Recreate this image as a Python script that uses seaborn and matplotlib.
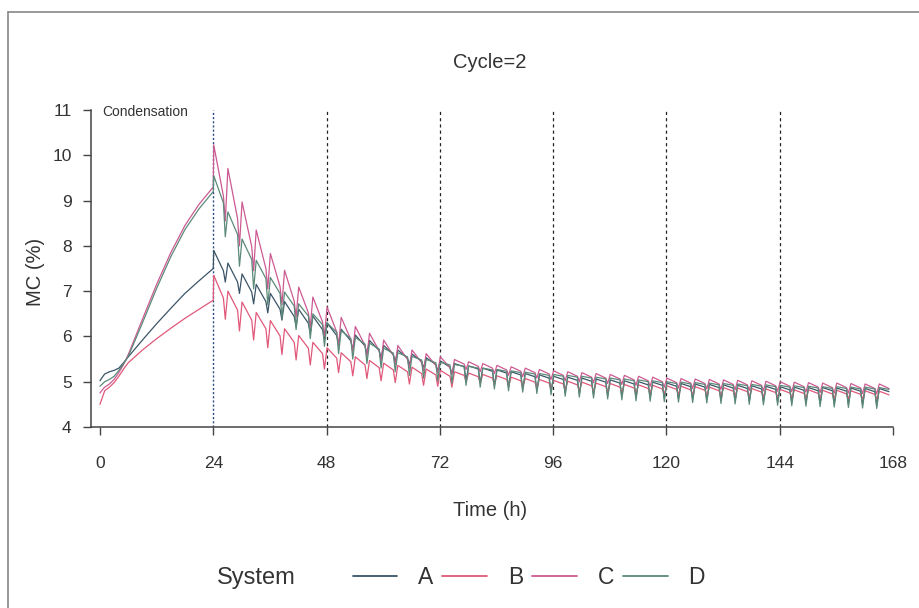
import numpy as np
import pandas as pd
import matplotlib
matplotlib.use("Agg")
import matplotlib.pyplot as plt
import seaborn as sns
from matplotlib.lines import Line2D

# ---------------- data ----------------
systems = ["A", "B", "C", "D"]
palette = {"A": "#3b5568", "B": "#e0587a", "C": "#cc5a92", "D": "#5b8a78"}

# condensation phase (0-24 h)
cond_time = [0, 0.5, 1, 2, 3, 4, 5, 6, 9, 12, 15, 18, 21, 24]
cond_A = [5.02, 5.10, 5.17, 5.22, 5.25, 5.30, 5.42, 5.55, 5.92, 6.28, 6.62, 6.95, 7.23, 7.50]
cond_B = [4.50, 4.65, 4.80, 4.88, 4.98, 5.12, 5.28, 5.42, 5.70, 5.95, 6.18, 6.40, 6.60, 6.80]
cond_C = [4.75, 4.82, 4.88, 4.95, 5.05, 5.20, 5.38, 5.60, 6.38, 7.15, 7.85, 8.45, 8.92, 9.30]
cond_D = [4.90, 4.95, 5.00, 5.05, 5.12, 5.25, 5.40, 5.56, 6.30, 7.06, 7.76, 8.36, 8.82, 9.20]

# drying cycles: one every 3 h from 24 h to 165 h
cycle_start = list(range(24, 166, 3))

peak_A = [7.90, 7.62, 7.38, 7.15, 6.95, 6.77, 6.60, 6.45, 6.30, 6.16, 6.03, 5.91, 5.80, 5.70, 5.61, 5.53, 5.46,
          5.40, 5.35, 5.30, 5.26, 5.22, 5.18, 5.15, 5.12,
          5.10, 5.08, 5.06, 5.04, 5.02, 5.00, 4.99, 4.97,
          4.96, 4.95, 4.94, 4.93, 4.92, 4.91, 4.90, 4.89,
          4.88, 4.87, 4.87, 4.86, 4.86, 4.85, 4.85]
shoulder_A = [7.45, 7.20, 6.98, 6.77, 6.60, 6.44, 6.29, 6.15, 6.02, 5.90, 5.79, 5.69, 5.60, 5.52, 5.45, 5.38, 5.32,
              5.33, 5.28, 5.23, 5.19, 5.15, 5.11, 5.08, 5.05,
              5.03, 5.01, 4.99, 4.97, 4.95, 4.93, 4.92, 4.90,
              4.89, 4.88, 4.87, 4.86, 4.85, 4.84, 4.83, 4.82,
              4.81, 4.80, 4.80, 4.79, 4.79, 4.78, 4.78]
trough_A = [7.20, 6.95, 6.72, 6.52, 6.36, 6.21, 6.07, 5.94, 5.82, 5.71, 5.61, 5.52, 5.44, 5.37, 5.30, 5.24, 5.18,
            5.02, 4.97, 4.92, 4.88, 4.84, 4.81, 4.78, 4.75,
            4.73, 4.71, 4.69, 4.67, 4.65, 4.64, 4.63, 4.62,
            4.61, 4.60, 4.59, 4.58, 4.57, 4.56, 4.55, 4.54,
            4.53, 4.52, 4.51, 4.50, 4.49, 4.48]

peak_B = [7.35, 7.00, 6.76, 6.53, 6.35, 6.17, 6.02, 5.87, 5.75, 5.64, 5.55, 5.47, 5.41, 5.36, 5.32, 5.28, 5.25,
          5.22, 5.19, 5.16, 5.13, 5.10, 5.07, 5.05, 5.03,
          5.01, 4.99, 4.97, 4.96, 4.94, 4.93, 4.92, 4.91,
          4.90, 4.89, 4.88, 4.87, 4.86, 4.85, 4.84, 4.83,
          4.82, 4.82, 4.81, 4.81, 4.80, 4.80, 4.79]
shoulder_B = [6.85, 6.58, 6.36, 6.17, 6.01, 5.87, 5.74, 5.62, 5.52, 5.44, 5.37, 5.31, 5.26, 5.22, 5.18, 5.15, 5.12,
              5.14, 5.11, 5.08, 5.05, 5.02, 4.99, 4.97, 4.95,
              4.93, 4.91, 4.89, 4.88, 4.86, 4.85, 4.84, 4.83,
              4.82, 4.81, 4.80, 4.79, 4.78, 4.77, 4.76, 4.75,
              4.74, 4.74, 4.73, 4.73, 4.72, 4.72, 4.71]
trough_B = [6.38, 6.12, 5.92, 5.75, 5.60, 5.48, 5.37, 5.28, 5.20, 5.13, 5.07, 5.02, 4.98, 4.95, 4.92, 4.90, 4.88,
            5.00, 4.97, 4.94, 4.91, 4.88, 4.86, 4.84, 4.82,
            4.80, 4.79, 4.78, 4.77, 4.76, 4.75, 4.74, 4.73,
            4.72, 4.71, 4.70, 4.69, 4.68, 4.67, 4.66, 4.65,
            4.64, 4.64, 4.63, 4.63, 4.62, 4.62]

peak_C = [10.23, 9.71, 8.97, 8.35, 7.83, 7.46, 7.09, 6.87, 6.65, 6.42, 6.22, 6.07, 5.92, 5.80, 5.70, 5.62, 5.55,
          5.49, 5.44, 5.40, 5.36, 5.33, 5.30, 5.27, 5.24,
          5.22, 5.20, 5.18, 5.16, 5.14, 5.12, 5.10, 5.08,
          5.07, 5.06, 5.05, 5.04, 5.03, 5.02, 5.01, 5.00,
          4.99, 4.98, 4.97, 4.97, 4.96, 4.95, 4.95]
shoulder_C = [9.10, 8.60, 7.98, 7.50, 7.10, 6.78, 6.52, 6.32, 6.10, 5.93, 5.80, 5.68, 5.58, 5.49, 5.42, 5.36, 5.31,
              5.39, 5.34, 5.30, 5.26, 5.23, 5.20, 5.17, 5.14,
              5.12, 5.10, 5.08, 5.06, 5.04, 5.02, 5.00, 4.98,
              4.97, 4.96, 4.95, 4.94, 4.93, 4.92, 4.91, 4.90,
              4.89, 4.88, 4.87, 4.87, 4.86, 4.85, 4.85]
trough_C = [8.55, 8.00, 7.45, 7.05, 6.70, 6.42, 6.20, 6.00, 5.80, 5.66, 5.55, 5.45, 5.37, 5.30, 5.24, 5.19, 5.15,
            5.27, 5.22, 5.18, 5.14, 5.11, 5.08, 5.05, 5.02,
            5.00, 4.98, 4.96, 4.94, 4.92, 4.90, 4.88, 4.86,
            4.85, 4.84, 4.83, 4.82, 4.81, 4.80, 4.79, 4.78,
            4.77, 4.76, 4.75, 4.75, 4.74, 4.73]

peak_D = [9.55, 8.75, 8.15, 7.68, 7.30, 6.98, 6.72, 6.50, 6.30, 6.13, 5.98, 5.85, 5.74, 5.64, 5.56, 5.49, 5.43,
          5.38, 5.34, 5.30, 5.27, 5.24, 5.21, 5.18, 5.16,
          5.14, 5.12, 5.10, 5.08, 5.06, 5.04, 5.02, 5.00,
          4.99, 4.98, 4.97, 4.96, 4.95, 4.94, 4.93, 4.92,
          4.91, 4.90, 4.89, 4.89, 4.88, 4.88, 4.87]
shoulder_D = [8.95, 8.25, 7.70, 7.28, 6.95, 6.67, 6.45, 6.26, 6.09, 5.95, 5.83, 5.72, 5.63, 5.55, 5.48, 5.42, 5.37,
              5.34, 5.30, 5.26, 5.23, 5.20, 5.17, 5.14, 5.12,
              5.10, 5.08, 5.06, 5.04, 5.02, 5.00, 4.98, 4.96,
              4.95, 4.94, 4.93, 4.92, 4.91, 4.90, 4.89, 4.88,
              4.87, 4.86, 4.85, 4.85, 4.84, 4.84, 4.83]
trough_D = [8.20, 7.55, 7.05, 6.70, 6.40, 6.15, 5.95, 5.78, 5.62, 5.50, 5.40, 5.30, 5.22, 5.14, 5.08, 5.02, 4.97,
            4.92, 4.88, 4.84, 4.80, 4.77, 4.74, 4.71, 4.68,
            4.66, 4.64, 4.62, 4.60, 4.58, 4.57, 4.56, 4.55,
            4.54, 4.53, 4.52, 4.51, 4.50, 4.49, 4.48, 4.47,
            4.46, 4.45, 4.44, 4.43, 4.42, 4.41]

series = {
    "A": (cond_A, peak_A, shoulder_A, trough_A),
    "B": (cond_B, peak_B, shoulder_B, trough_B),
    "C": (cond_C, peak_C, shoulder_C, trough_C),
    "D": (cond_D, peak_D, shoulder_D, trough_D),
}

x_ticks = [0, 24, 48, 72, 96, 120, 144, 168]
y_ticks = [4, 5, 6, 7, 8, 9, 10, 11]
day_marks = [24, 48, 72, 96, 120, 144]

# within-cycle timing of the drying pulse (hours after cycle start)
PEAK_OFF, SHOULDER_OFF, TROUGH_OFF = 0.1, 2.15, 2.55

rows = []
for s in systems:
    cond, pk, sh, tr = series[s]
    for t, v in zip(cond_time, cond):
        rows.append((s, t, v))
    for k, t0 in enumerate(cycle_start):
        rows.append((s, t0 + PEAK_OFF, pk[k]))
        rows.append((s, t0 + SHOULDER_OFF, sh[k]))
        if k < len(tr):
            rows.append((s, t0 + TROUGH_OFF, tr[k]))
df = pd.DataFrame(rows, columns=["System", "Time", "MC"])

# ---------------- plot ----------------
sns.set_theme(style="white")
plt.rcParams["font.family"] = ["Liberation Sans", "DejaVu Sans"]

W, H = 920, 608
fig = plt.figure(figsize=(W / 100, H / 100), dpi=100)
fig.patch.set_facecolor("white")
ax = fig.add_axes([91 / W, 1 - 427 / H, (893 - 91) / W, (427 - 110) / H])

sns.lineplot(data=df, x="Time", y="MC", hue="System", palette=palette,
             sort=False, estimator=None, linewidth=0.9, legend=False, ax=ax)

for i, d in enumerate(day_marks):
    if i == 0:
        ax.axvline(d, color="#2b4a86", lw=1.0, ls=(0, (1.5, 1.5)), zorder=0)
    else:
        ax.axvline(d, color="#222222", lw=0.9, ls=(0, (2.5, 2.5)), zorder=0)

ax.set_xlim(-1.9, 168)
ax.set_ylim(4, 11)
ax.set_xticks(x_ticks)
ax.set_yticks(y_ticks)
tick_font = ["Liberation Sans Narrow", "Liberation Sans", "DejaVu Sans"]
ax.set_xticklabels([str(v) for v in x_ticks], fontsize=12.5, family=tick_font, color="#333333")
ax.set_yticklabels([str(v) for v in y_ticks], fontsize=12.5, family=tick_font, color="#333333")
ax.tick_params(axis="x", direction="out", length=6, width=1, color="#444444", pad=15)
ax.tick_params(axis="y", direction="out", length=6, width=1, color="#444444", pad=8)
ax.tick_params(left=True, bottom=True)
for side in ["top", "right"]:
    ax.spines[side].set_visible(False)
for side in ["left", "bottom"]:
    ax.spines[side].set_color("#444444")
    ax.spines[side].set_linewidth(1.1)
ax.grid(False)

ax.set_xlabel("Time (h)", fontsize=14.5, color="#333333")
ax.xaxis.set_label_coords((490 - 91) / 802, (427 - 510) / 317)
ax.xaxis.label.set_va("center")
ax.set_ylabel("MC (%)", fontsize=14.5, color="#333333")
ax.yaxis.set_label_coords((36 - 91) / 802, (427 - 272) / 317)
ax.yaxis.label.set_va("center")

ax.text(0.5, 10.96, "Condensation", fontsize=10, color="#333333", va="center", ha="left")

fig.text(490 / W, 1 - 62 / H, "Cycle=2", fontsize=14.5, color="#333333", ha="center", va="center")

# legend
handles = [Line2D([], [], color=palette[s], lw=1.3) for s in systems]
fig.text(217 / W, 1 - 578 / H, "System", fontsize=17, color="#333333", ha="left", va="center")
fig.legend(handles, systems, loc="center left", bbox_to_anchor=(332 / W, 1 - 578 / H),
           ncol=4, frameon=False, fontsize=16.5, handlelength=1.95, handletextpad=0.9,
           columnspacing=0.4, labelcolor="#333333", borderpad=0.4)

# scanned page frame
fig.add_artist(Line2D([8 / W, 1], [1 - 12 / H, 1 - 12 / H], transform=fig.transFigure, color="#888888", lw=1.2))
fig.add_artist(Line2D([8 / W, 8 / W], [1 - 12 / H, 0], transform=fig.transFigure, color="#888888", lw=1.2))

fig.savefig("out.png", dpi=100, facecolor="white")
